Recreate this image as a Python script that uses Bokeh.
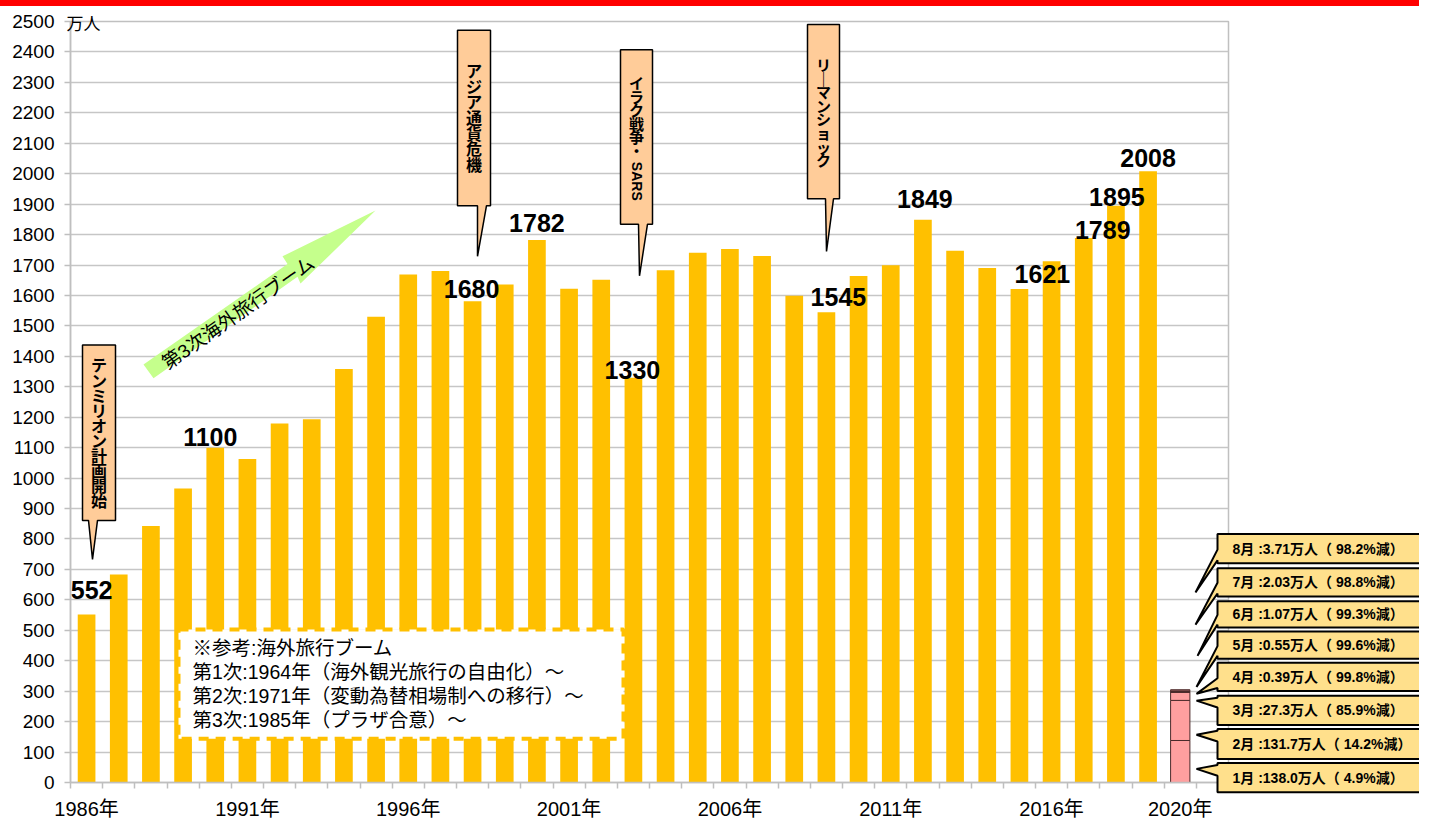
import math
from bokeh.plotting import figure
from bokeh.models import Range1d, FixedTicker, ColumnDataSource
from bokeh.core.properties import value
from bokeh.embed import file_html
from bokeh.resources import INLINE

# ---------------- data ----------------
years = list(range(1986, 2020))
travelers = [552, 683, 843, 966, 1100, 1063, 1179, 1193, 1358, 1530,
             1669, 1680, 1581, 1636, 1782, 1622, 1652, 1330, 1683, 1740,
             1753, 1730, 1599, 1545, 1664, 1699, 1849, 1747, 1690, 1621,
             1712, 1789, 1895, 2008]

year_2020 = 2020
month_names = ["1月", "2月", "3月", "4月", "5月", "6月", "7月", "8月"]
month_values = [138.0, 131.7, 27.3, 0.39, 0.55, 1.07, 2.03, 3.71]
month_decline = [4.9, 14.2, 85.9, 99.8, 99.6, 99.3, 98.8, 98.2]

label_years = [1986, 1990, 1998, 2000, 2003, 2009, 2012, 2015, 2017, 2018, 2019]
label_texts = ["552", "1100", "1680", "1782", "1330", "1545", "1849", "1621", "1789", "1895", "2008"]

x_tick_years = [1986, 1991, 1996, 2001, 2006, 2011, 2016, 2020]
y_ticks = list(range(0, 2501, 100))

events = ["テンミリオン計画開始", "アジア通貨危機", "イラク戦争・SARS", "リーマンショック"]
boom_text = "第3次海外旅行ブーム"
note_lines = ["※参考:海外旅行ブーム",
              "第1次:1964年（海外観光旅行の自由化）～",
              "第2次:1971年（変動為替相場制への移行）～",
              "第3次:1985年（プラザ合意）～"]
unit_text = "万人"

# ---------------- layout ----------------
W, H = 1419, 822
FL, FR, FT, FB = 70, 1228, 21, 790     # frame edges in figure pixels
REF_FT, REF_FB = 21, 802               # frame top/bottom in the reference picture
XMIN, XMAX = 1985.5, 2021.5
YMAX = 2500

def px_x(px):
    return XMIN + (px - FL) * (XMAX - XMIN) / (FR - FL)

def px_y(py):
    return YMAX * (REF_FB - py) / (REF_FB - REF_FT)

PXX = (XMAX - XMIN) / (FR - FL)
PXY = YMAX / (REF_FB - REF_FT)

p = figure(width=W, height=H, output_backend="svg", toolbar_location=None,
           x_range=Range1d(XMIN, XMAX), y_range=Range1d(0, YMAX),
           min_border_left=FL, min_border_right=W - FR,
           min_border_top=FT, min_border_bottom=H - FB,
           background_fill_color="white", border_fill_color="white")
p.outline_line_color = "#C0C0C0"
p.outline_line_width = 1.5

GRID = "#C6C6C6"
p.xgrid.grid_line_color = None
p.ygrid.grid_line_color = GRID
p.ygrid.grid_line_width = 1.5
p.yaxis.ticker = FixedTicker(ticks=y_ticks)
p.xaxis.ticker = FixedTicker(ticks=x_tick_years,
                             minor_ticks=[XMIN + i for i in range(37)])
p.xaxis.major_label_overrides = {y: f"{y}年" for y in x_tick_years}

for ax in (p.xaxis[0], p.yaxis[0]):
    ax.axis_line_color = "#BFBFBF"
    ax.axis_line_width = 1.5
    ax.major_label_text_color = "black"
    ax.major_label_text_font = "Liberation Sans, Noto Sans CJK JP"

p.yaxis.major_tick_line_color = "#BFBFBF"
p.yaxis.major_tick_line_width = 1.5
p.yaxis.major_tick_out = 6
p.yaxis.major_tick_in = 0
p.yaxis.minor_tick_line_color = None
p.yaxis.major_label_standoff = 10
p.yaxis.major_label_text_font_size = "19px"

p.xaxis.major_tick_line_color = None
p.xaxis.major_tick_out = 0
p.xaxis.major_tick_in = 0
p.xaxis.minor_tick_line_color = "#BFBFBF"
p.xaxis.minor_tick_line_width = 1.5
p.xaxis.minor_tick_out = 6
p.xaxis.minor_tick_in = 0
p.xaxis.major_label_standoff = 9
p.xaxis.major_label_text_font_size = "20px"

# red band at the top of the page
p.quad(left=[px_x(-50)], right=[px_x(1500)], top=[px_y(-2)], bottom=[px_y(5)],
       fill_color="#FF0000", line_color=None, level="overlay")

# ---------------- bars ----------------
src = ColumnDataSource(dict(x=years, top=travelers))
p.vbar(x="x", top="top", width=0.55, source=src, fill_color="#FFC000", line_color=None)

bottoms, tops = [], []
acc = 0.0
for v in month_values:
    bottoms.append(acc)
    acc += v
    tops.append(acc)
msrc = ColumnDataSource(dict(x=[year_2020] * len(month_values), bottom=bottoms, top=tops))
p.vbar(x="x", bottom="bottom", top="top", width=0.6, source=msrc,
       fill_color="#FF9F9F", line_color="#4A2A2A", line_width=1)

# ---------------- value labels ----------------
# pixel offsets of each label centre from the top of its bar
label_dx = [5, -5, -1, 0, -1, 12, 2, 23, 19, 1, 0]
label_dy = [25, 11, 13, 17, 8, 16, 21, 15, 8, 9, 14]
val = dict(zip(years, travelers))
lsrc = ColumnDataSource(dict(
    x=[y + dx * PXX for y, dx in zip(label_years, label_dx)],
    y=[val[y] + dy * PXY for y, dy in zip(label_years, label_dy)],
    t=label_texts))
p.text(x="x", y="y", text="t", source=lsrc, text_align="center", text_baseline="middle",
       text_font=value("Liberation Sans"), text_font_style="bold",
       text_font_size="25px", text_color="black")

# ---------------- note box ----------------
p.quad(left=[px_x(178)], right=[px_x(623)], top=[px_y(645)], bottom=[px_y(757)],
       fill_color="white", line_color="#FFC000", line_width=4, line_dash="10 7")
note_y = [664, 689, 713, 738]
p.text(x=[px_x(192)] * 4, y=[px_y(v) for v in note_y], text=note_lines,
       text_align="left", text_baseline="middle",
       text_font=value("Liberation Sans, Noto Sans CJK JP"),
       text_font_size="19.5px", text_color="black")

# unit label
p.text(x=[px_x(66)], y=[px_y(22)], text=[unit_text], text_align="left", text_baseline="middle",
       text_font=value("Noto Sans CJK JP"), text_font_size="17px", text_color="black",
       level="overlay")

# ---------------- green arrow ----------------
arrow = [(143, 373), (287, 270), (282, 262), (375, 215), (300, 290), (297, 283), (153, 387)]
p.patch(x=[px_x(a) for a, b in arrow], y=[px_y(b) for a, b in arrow],
        fill_color="#C5FF8C", line_color=None, level="overlay")
p.text(x=[px_x(238)], y=[px_y(320)], text=[boom_text], angle=math.atan2(92, 131),
       text_align="center", text_baseline="middle",
       text_font=value("Liberation Sans, Noto Sans CJK JP"), text_font_size="19px",
       text_color="black", level="overlay")

# ---------------- event callouts ----------------
# (box x0, x1, y0, y1), (tail base x0, x1, tip x, tip y), first char centre y, advance, font px
callout_geo = [
    ((82, 115, 353, 533), (88, 97, 92, 573), 373, 15.5, 16),
    ((457, 490, 30, 210), (477, 486, 477, 262), 71, 16.0, 16),
    ((620, 652, 50, 229), (638, 647, 639, 282), 84, 13.8, 15),
    ((807, 839, 24, 203), (825, 833, 826, 257), 65, 14.0, 15),
]
for ev, (box, tail, y_first, adv, fs) in zip(events, callout_geo):
    x0, x1, y0, y1 = box
    t0, t1, tx, ty = tail
    pts = [(x0, y0), (x1, y0), (x1, y1), (t1, y1), (tx, ty), (t0, y1), (x0, y1)]
    p.patch(x=[px_x(a) for a, b in pts], y=[px_y(b) for a, b in pts],
            fill_color="#FFCC99", line_color="black", line_width=1.5, level="overlay")
    cx = (x0 + x1) / 2
    latin = ""
    body = ev
    if "SARS" in ev:
        body, latin = ev.split("SARS")[0], "SARS"
    chars = ["｜" if c == "ー" else c for c in body]
    p.text(x=[px_x(cx)] * len(chars), y=[px_y(y_first + i * adv) for i in range(len(chars))],
           text=chars, text_align="center", text_baseline="middle",
           text_font=value("Noto Sans CJK JP"), text_font_style="bold",
           text_font_size=f"{fs}px", text_color="black", level="overlay")
    if latin:
        p.text(x=[px_x(cx)], y=[px_y(185)], text=[latin], angle=-math.pi / 2,
               text_align="center", text_baseline="middle",
               text_font=value("Liberation Sans"), text_font_style="bold",
               text_font_size="14px", text_color="black", level="overlay")

# ---------------- 2020 monthly callouts ----------------
# per month (1..8): box top, bottom, tail base y0, y1, tip x, tip y
month_geo = [
    (782, 812, 784, 795, 1196, 788),
    (747, 778, 749, 760, 1196, 753),
    (713, 743, 715, 725, 1196, 718),
    (679, 708, 695, 705, 1196, 711),
    (647, 675, 662, 672, 1196, 704),
    (616, 643, 630, 640, 1197, 672),
    (582, 611, 597, 608, 1195, 640),
    (547, 577, 563, 574, 1195, 607),
]
BL, BR = 1217, 1460
for name, v, d, (top, bot, b0, b1, tx, ty) in zip(month_names, month_values, month_decline, month_geo):
    pts = [(BL, top), (BR, top), (BR, bot), (BL, bot), (BL, b1), (tx, ty), (BL, b0)]
    p.patch(x=[px_x(a) for a, b in pts], y=[px_y(b) for a, b in pts],
            fill_color="#FFE08C", line_color="black", line_width=2, level="overlay")
    vs = f"{v:.1f}" if v >= 10 else f"{v:.2f}"
    p.text(x=[px_x(1232)], y=[px_y((top + bot) / 2)], text=[f"{name} :{vs}万人（ {d}%減）"],
           text_align="left", text_baseline="middle",
           text_font=value("Liberation Sans, Noto Sans CJK JP"), text_font_style="bold",
           text_font_size="14px", text_color="black", level="overlay")

open("out.html", "w").write(file_html(p, INLINE))
